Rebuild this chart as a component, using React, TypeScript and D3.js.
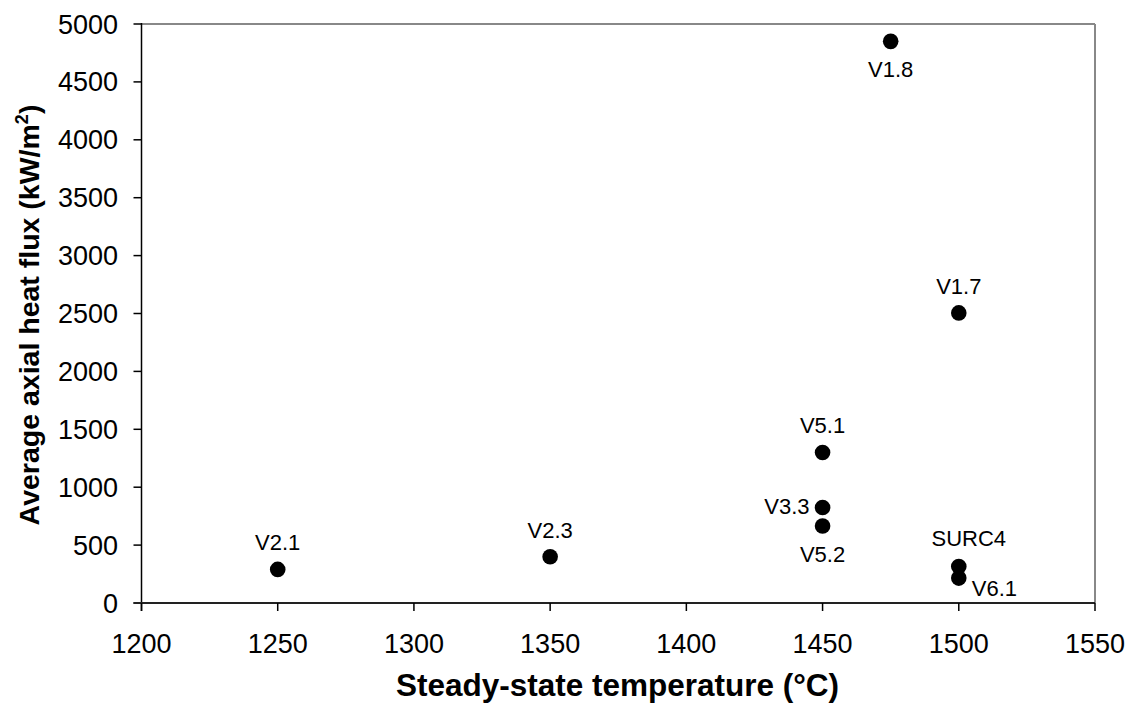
import React from "react";
import * as d3 from "d3";

const labels = ["V2.1", "V2.3", "V1.8", "V1.7", "V5.1", "V3.3", "V5.2", "SURC4", "V6.1"];
const temperatures = [1250, 1350, 1475, 1500, 1450, 1450, 1450, 1500, 1500];
const heatFlux = [290, 400, 4850, 2505, 1300, 825, 665, 315, 215];
// label placement relative to the marker
const placements = ["above", "above", "below", "above", "above", "left", "below", "aboveRight", "belowRight"];
const xTicks = [1200, 1250, 1300, 1350, 1400, 1450, 1500, 1550];
const yTicks = [0, 500, 1000, 1500, 2000, 2500, 3000, 3500, 4000, 4500, 5000];

const W = 1133;
const H = 708;
const M = { left: 141.5, right: 1095, top: 24, bottom: 603 };

export default function App() {
  const x = d3.scaleLinear().domain([1200, 1550]).range([M.left, M.right]);
  const y = d3.scaleLinear().domain([0, 5000]).range([M.bottom, M.top]);
  const font = "Arial, 'Liberation Sans', sans-serif";

  const labelPos = (p: string) => {
    switch (p) {
      case "above":
        return { dx: 0, dy: -19, anchor: "middle" };
      case "below":
        return { dx: 0, dy: 36, anchor: "middle" };
      case "left":
        return { dx: -13, dy: 7, anchor: "end" };
      case "aboveRight":
        return { dx: 10, dy: -21, anchor: "middle" };
      case "belowRight":
        return { dx: 13, dy: 18, anchor: "start" };
      default:
        return { dx: 0, dy: 0, anchor: "middle" };
    }
  };

  return (
    <div style={{ position: "absolute", left: 0, top: 0 }}>
      <svg width={W} height={H} style={{ display: "block", background: "#fff" }} fontFamily={font}>
        {/* frame */}
        <line x1={M.left} x2={M.right} y1={M.top} y2={M.top} stroke="#888" strokeWidth={2} />
        <line x1={M.right} x2={M.right} y1={M.top} y2={M.bottom} stroke="#888" strokeWidth={2} />
        {/* y axis */}
        <line x1={M.left} x2={M.left} y1={M.top - 1} y2={M.bottom + 8} stroke="#000" strokeWidth={1.5} />
        {yTicks.map((t) => (
          <g key={"y" + t}>
            <line x1={M.left - 8} x2={M.left} y1={y(t)} y2={y(t)} stroke="#000" strokeWidth={1.5} />
            <text x={118} y={y(t) + 9.5} textAnchor="end" fontSize={27}>
              {t}
            </text>
          </g>
        ))}
        {/* x axis */}
        <line x1={M.left - 8} x2={M.right} y1={M.bottom} y2={M.bottom} stroke="#222" strokeWidth={2} />
        {xTicks.map((t) => (
          <g key={"x" + t}>
            <line x1={x(t)} x2={x(t)} y1={M.bottom} y2={M.bottom + 8} stroke="#000" strokeWidth={1.5} />
            <text x={x(t)} y={653} textAnchor="middle" fontSize={27}>
              {t}
            </text>
          </g>
        ))}
        {/* points */}
        {labels.map((l, i) => {
          const cx = x(temperatures[i]);
          const cy = y(heatFlux[i]);
          const p = labelPos(placements[i]);
          return (
            <g key={l}>
              <circle cx={cx} cy={cy} r={7.8} fill="#000" />
              <text x={cx + p.dx} y={cy + p.dy} textAnchor={p.anchor} fontSize={22}>
                {l}
              </text>
            </g>
          );
        })}
        {/* axis titles */}
        <text x={617.5} y={696} textAnchor="middle" fontSize={31.5} fontWeight="bold">
          Steady-state temperature (°C)
        </text>
        <text
          transform={`translate(39, 315) rotate(-90)`}
          textAnchor="middle"
          fontSize={28.5}
          fontWeight="bold"
        >
          Average axial heat flux (kW/m
          <tspan dy={-11} fontSize={18}>2</tspan>
          <tspan dy={11}>)</tspan>
        </text>
      </svg>
    </div>
  );
}
